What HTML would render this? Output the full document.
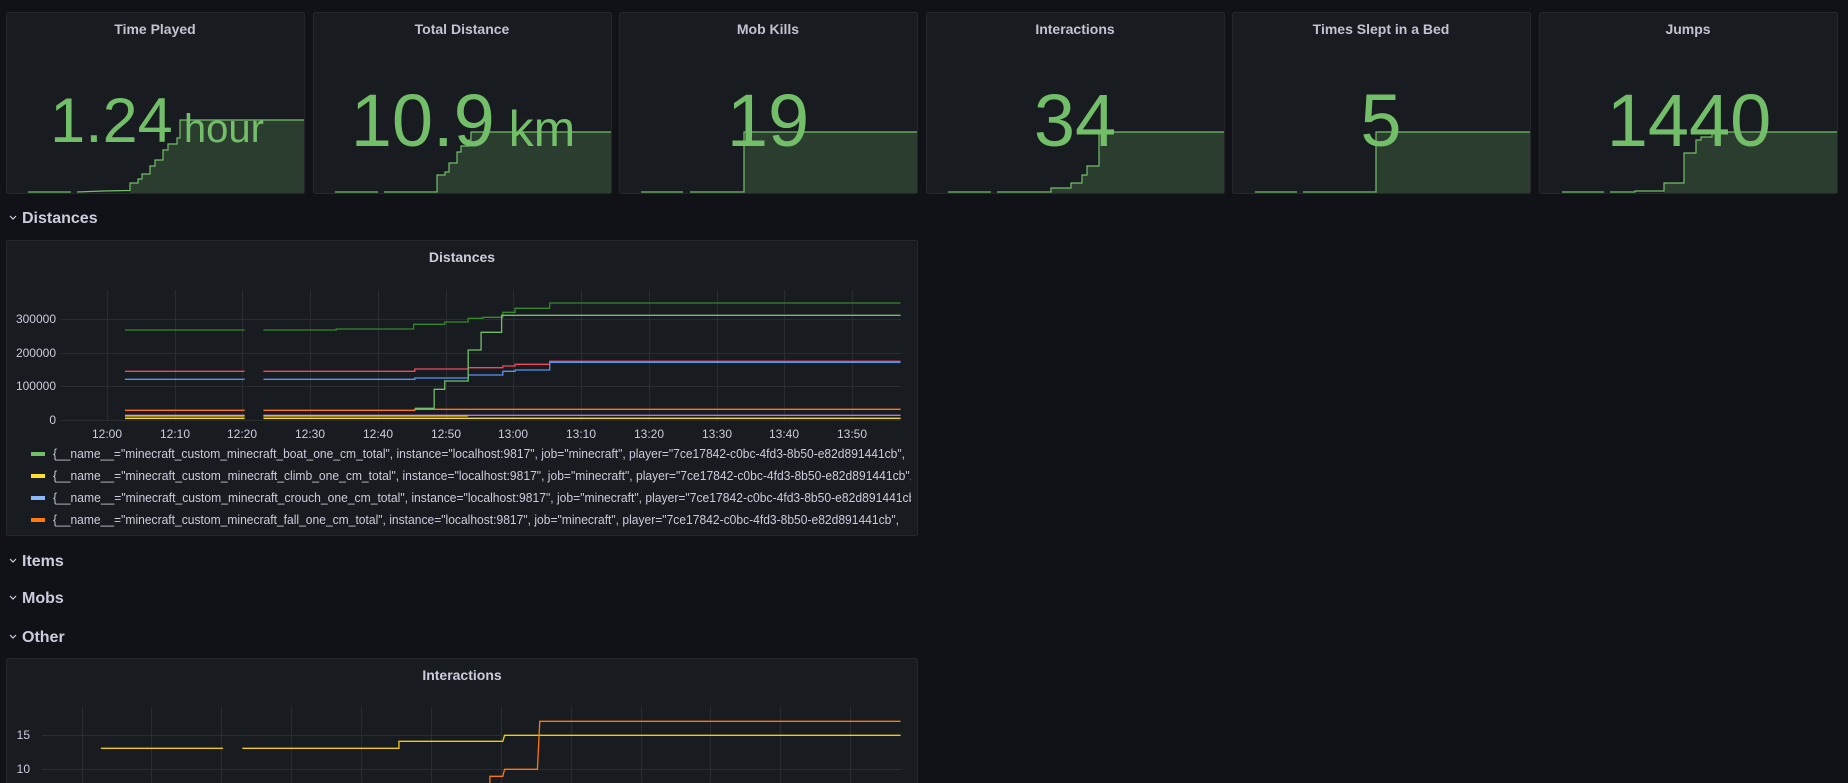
<!DOCTYPE html>
<html><head><meta charset="utf-8"><style>
html,body{margin:0;padding:0;background:#111217;width:1848px;height:783px;overflow:hidden}
svg{display:block}
text{font-family:"Liberation Sans",sans-serif}
</style></head><body>
<svg width="1848" height="783" viewBox="0 0 1848 783" xmlns="http://www.w3.org/2000/svg">
<defs>
<clipPath id="lg"><rect x="6" y="440" width="905" height="95"/></clipPath>
<clipPath id="ip"><rect x="6" y="658" width="911" height="130"/></clipPath>
</defs>
<rect width="1848" height="783" fill="#111217"/>
<g fill="#181b1f" stroke="#25272d" stroke-width="1">
<rect x="6.5" y="12.5" width="298" height="181" rx="2"/>
<rect x="313.5" y="12.5" width="298" height="181" rx="2"/>
<rect x="619.5" y="12.5" width="298" height="181" rx="2"/>
<rect x="926.5" y="12.5" width="298" height="181" rx="2"/>
<rect x="1232.5" y="12.5" width="298" height="181" rx="2"/>
<rect x="1539.5" y="12.5" width="298" height="181" rx="2"/>
</g>
<g fill="#2b3d2e" stroke="none">
<path d="M130,190.5 L130,183 L138,183 L138,179 L142,179 L142,174 L150,174 L150,166 L155,166 L155,160 L163,160 L163,150 L168,150 L168,144 L177,144 L177,138 L180,138 L180,120 L304,120 L304,193 L130,193 Z"/>
<path d="M437,192 L437,175 L445,175 L445,172 L449,172 L449,163 L457,163 L457,152 L461,152 L461,146 L469,146 L469,140 L471,140 L471,132 L611,132 L611,193 L437,193 Z"/>
<path d="M744,192 L744,132 L917,132 L917,193 L744,193 Z"/>
<path d="M1051,188 L1071,188 L1071,183 L1082,183 L1082,175 L1087,175 L1087,166 L1099,166 L1099,132 L1224,132 L1224,193 L1051,193 Z"/>
<path d="M1376,192 L1376,132 L1530,132 L1530,193 L1376,193 Z"/>
<path d="M1664,191 L1664,183 L1684,183 L1684,153 L1696,153 L1696,140 L1701,140 L1701,137 L1712,137 L1712,132 L1837,132 L1837,193 L1664,193 Z"/>
</g>
<g fill="none" stroke="#73bf69" stroke-width="1.2">
<path d="M28,192 L71,192 M77,192 L103,191 L130,190.5 L130,183 L138,183 L138,179 L142,179 L142,174 L150,174 L150,166 L155,166 L155,160 L163,160 L163,150 L168,150 L168,144 L177,144 L177,138 L180,138 L180,120 L304,120"/>
<path d="M335,192 L378,192 M384,192 L437,192 L437,175 L445,175 L445,172 L449,172 L449,163 L457,163 L457,152 L461,152 L461,146 L469,146 L469,140 L471,140 L471,132 L611,132"/>
<path d="M641,192 L683,192 M690,192 L744,192 L744,132 L917,132"/>
<path d="M948,192 L991,192 M997,192 L1051,192 L1051,188 L1071,188 L1071,183 L1082,183 L1082,175 L1087,175 L1087,166 L1099,166 L1099,132 L1224,132"/>
<path d="M1255,192 L1297,192 M1303,192 L1376,192 L1376,132 L1530,132"/>
<path d="M1562,192 L1604,192 M1610,192 L1635,192 L1635,191 L1664,191 L1664,183 L1684,183 L1684,153 L1696,153 L1696,140 L1701,140 L1701,137 L1712,137 L1712,132 L1837,132"/>
</g>
<g fill="#ccccdc" font-size="14" font-weight="bold" text-anchor="middle" opacity="0.95">
<text x="155" y="34">Time Played</text>
<text x="462" y="34">Total Distance</text>
<text x="768" y="34">Mob Kills</text>
<text x="1075" y="34">Interactions</text>
<text x="1381" y="34">Times Slept in a Bed</text>
<text x="1688" y="34">Jumps</text>
</g>
<g fill="#73bf69" text-anchor="middle">
<text x="157" y="142" font-size="63">1.24<tspan font-size="40"> hour</tspan></text>
<text x="463" y="146" font-size="74">10.9<tspan font-size="50"> km</tspan></text>
<text x="768" y="146" font-size="74">19</text>
<text x="1075" y="146" font-size="74">34</text>
<text x="1381" y="146" font-size="74">5</text>
<text x="1689" y="146" font-size="74">1440</text>
</g>
<g fill="#ccccdc" font-size="16" font-weight="bold">
<text x="22" y="223">Distances</text>
<text x="22" y="566">Items</text>
<text x="22" y="603">Mobs</text>
<text x="22" y="642">Other</text>
</g>
<g fill="none" stroke="#ccccdc" stroke-width="1.2">
<path d="M10,216 L13,219 L16,216"/>
<path d="M10,559 L13,562 L16,559"/>
<path d="M10,596 L13,599 L16,596"/>
<path d="M10,635 L13,638 L16,635"/>
</g>
<rect x="6.5" y="240.5" width="911" height="295" rx="2" fill="#181b1f" stroke="#25272d"/>
<text x="462" y="262" fill="#ccccdc" font-size="14" font-weight="bold" text-anchor="middle">Distances</text>
<g stroke="#2a2c32" stroke-width="1">
<path d="M61,319.5H901M61,353.5H901M61,386.5H901M61,420.5H901"/>
<path d="M107.5,290V421M175.5,290V421M242.5,290V421M310.5,290V421M378.5,290V421M446.5,290V421M513.5,290V421M581.5,290V421M649.5,290V421M717.5,290V421M784.5,290V421M852.5,290V421"/>
</g>
<g fill="#ccccdc" font-size="12" text-anchor="end">
<text x="56" y="323">300000</text><text x="56" y="357">200000</text><text x="56" y="390">100000</text><text x="56" y="424">0</text>
</g>
<g fill="#ccccdc" font-size="12" text-anchor="middle">
<text x="107" y="438">12:00</text><text x="175" y="438">12:10</text><text x="242" y="438">12:20</text><text x="310" y="438">12:30</text><text x="378" y="438">12:40</text><text x="446" y="438">12:50</text><text x="513" y="438">13:00</text><text x="581" y="438">13:10</text><text x="649" y="438">13:20</text><text x="717" y="438">13:30</text><text x="784" y="438">13:40</text><text x="852" y="438">13:50</text>
</g>
<g transform="translate(0,230) scale(0.5867,0.33333)" fill="none" stroke-width="1.3">
<path vector-effect="non-scaling-stroke" stroke="#37872d" d="M213,300H417M449,300H573V297H705V283H758V276H798V265H823V262H857V247H878V235H937V219H1535"/>
<path vector-effect="non-scaling-stroke" stroke="#f2495c" d="M213,424H417M449,424H707V417H798V413H857V408H878V403H937V394H1535"/>
<path vector-effect="non-scaling-stroke" stroke="#5794f2" d="M213,448H417M449,448H707V444H798V435H857V424H878V420H937V397H1535"/>
<path vector-effect="non-scaling-stroke" stroke="#ff780a" d="M213,541H417M449,541H707V538H1535"/>
<path vector-effect="non-scaling-stroke" stroke="#b877d9" d="M213,556H417M449,556H1535"/>
<path vector-effect="non-scaling-stroke" stroke="#f2cc0c" d="M213,558H417M449,558H798"/>
<path vector-effect="non-scaling-stroke" stroke="#fade2a" d="M213,565H417M449,565H1535"/>
<path vector-effect="non-scaling-stroke" stroke="#73bf69" d="M707,535H740V478H758V453H798V360H820V307H855V256H1535"/>
</g>
<g clip-path="url(#lg)" font-size="12.5" fill="#ccccdc">
<rect x="31" y="452" width="14" height="4" fill="#73bf69"/>
<rect x="31" y="474" width="14" height="4" fill="#fade2a"/>
<rect x="31" y="496" width="14" height="4" fill="#8ab8ff"/>
<rect x="31" y="518" width="14" height="4" fill="#ff780a"/>
<text x="53" y="458" textLength="852" lengthAdjust="spacingAndGlyphs">{__name__="minecraft_custom_minecraft_boat_one_cm_total", instance="localhost:9817", job="minecraft", player="7ce17842-c0bc-4fd3-8b50-e82d891441cb",</text>
<text x="53" y="480" textLength="860" lengthAdjust="spacingAndGlyphs">{__name__="minecraft_custom_minecraft_climb_one_cm_total", instance="localhost:9817", job="minecraft", player="7ce17842-c0bc-4fd3-8b50-e82d891441cb",</text>
<text x="53" y="502" textLength="870" lengthAdjust="spacingAndGlyphs">{__name__="minecraft_custom_minecraft_crouch_one_cm_total", instance="localhost:9817", job="minecraft", player="7ce17842-c0bc-4fd3-8b50-e82d891441cb",</text>
<text x="53" y="524" textLength="846" lengthAdjust="spacingAndGlyphs">{__name__="minecraft_custom_minecraft_fall_one_cm_total", instance="localhost:9817", job="minecraft", player="7ce17842-c0bc-4fd3-8b50-e82d891441cb",</text>
</g>
<rect x="6.5" y="658.5" width="911" height="140" rx="2" fill="#181b1f" stroke="#25272d"/>
<text x="462" y="680" fill="#ccccdc" font-size="14" font-weight="bold" text-anchor="middle">Interactions</text>
<g clip-path="url(#ip)">
<g stroke="#2a2c32" stroke-width="1">
<path d="M42,735.5H901M42,769.5H901"/>
<path d="M82.5,707V790M151.5,707V790M221.5,707V790M291.5,707V790M361.5,707V790M431.5,707V790M501.5,707V790M571.5,707V790M641.5,707V790M710.5,707V790M780.5,707V790M850.5,707V790"/>
</g>
<g fill="#ccccdc" font-size="12" text-anchor="end"><text x="30" y="739">15</text><text x="30" y="773">10</text></g>
<g transform="translate(0,540) scale(0.5867,0.33333)" fill="none" stroke-width="1.3">
<path vector-effect="non-scaling-stroke" stroke="#f2cc0c" d="M172,625H380M413,625H680V604H857L860,586H1535"/>
<path vector-effect="non-scaling-stroke" stroke="#ff780a" d="M835,760V709H857L860,688H916L920,544H1535"/>
</g>
</g>
</svg>
</body></html>
